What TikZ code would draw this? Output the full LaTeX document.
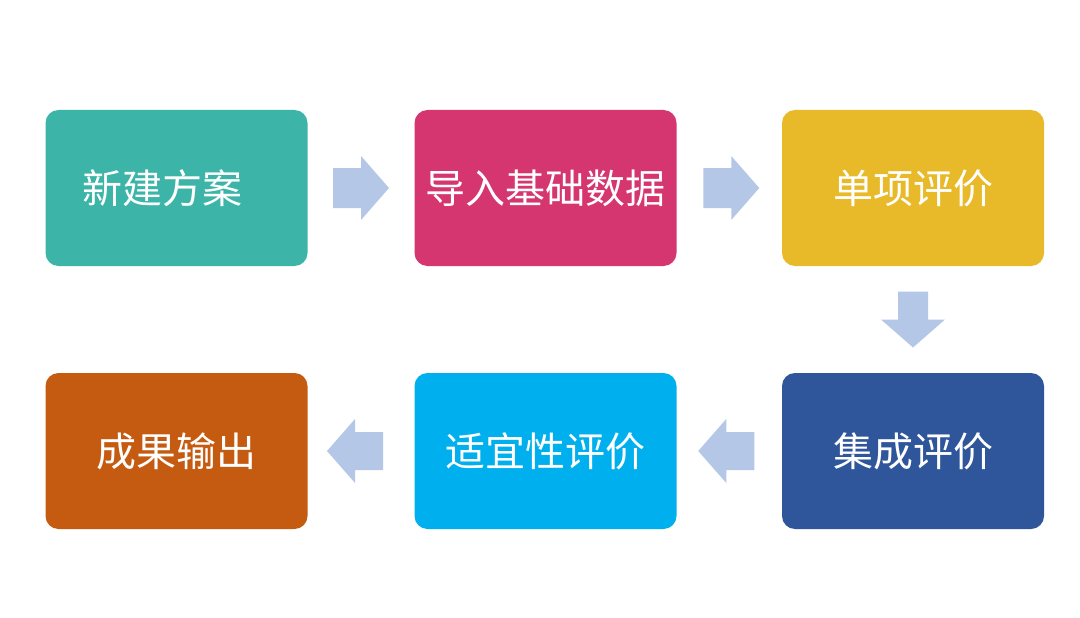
\documentclass[tikz,border=0pt]{standalone}
\usepackage{fontspec}
\newfontfamily\cjk{Noto Sans CJK SC}
\usetikzlibrary{calc}

\definecolor{stepteal}{HTML}{3CB4A7}
\definecolor{steprose}{HTML}{D6366F}
\definecolor{stepgold}{HTML}{E8B928}
\definecolor{stepnavy}{HTML}{2F559A}
\definecolor{stepsky}{HTML}{00B0EE}
\definecolor{steprust}{HTML}{C55A11}
\definecolor{arrowfill}{HTML}{B4C7E7}

\tikzset{
	stepbox/.style={rectangle, rounded corners=13pt, minimum width=262pt, minimum height=156pt,
		inner sep=0pt, text=white, font=\cjk\fontsize{40}{48}\selectfont},
	pics/flowarrow/.style={code={
		\fill[arrowfill] (-28,-#1) -- (0,-#1) -- (0,-32) -- (28,0) -- (0,32) -- (0,#1) -- (-28,#1) -- cycle;
	}}
}

\begin{document}
\begin{tikzpicture}[x=1pt, y=-1pt]
			
			\useasboundingbox[fill=white] (0,0) rectangle (1080,618);
			
			\coordinate (L) at (176.5, 188); 
			\coordinate (M) at (545.5, 188); 
			\coordinate (R) at (913, 188);
			
			\node[stepbox, fill=stepteal] (new) at (L) {新建方案\kern28pt};
			\node[stepbox, fill=steprose] (import) at (M) {导入基础数据};
			\node[stepbox, fill=stepgold] (single) at (R) {单项评价};
			
			\node[stepbox, fill=stepnavy] (integrated) at ($(R)+(0,263)$) {集成评价};
			\node[stepbox, fill=stepsky] (suit) at ($(M)+(0,263)$) {适宜性评价};
			\node[stepbox, fill=steprust] (output) at ($(L)+(0,263)$) {成果输出};
			
			%
			%%Block arrows between the steps.
			\path ($(new.east)!0.5!(import.west)$) pic {flowarrow=20};
			\path ($(import.east)!0.5!(single.west)$) pic[xshift=2pt] {flowarrow=20};
			\path ($(single.south)!0.5!(integrated.north)$) pic[rotate=-90] {flowarrow=15};
			\path ($(integrated.west)!0.5!(suit.east)$) pic[rotate=180, xshift=3pt] {flowarrow=19};
			\path ($(suit.west)!0.5!(output.east)$) pic[rotate=180, xshift=6pt] {flowarrow=19};
			
		\end{tikzpicture}
\end{document}
